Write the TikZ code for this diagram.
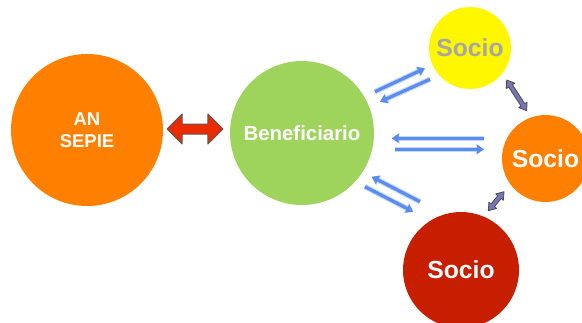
\documentclass[tikz,border=0pt]{standalone}
\usepackage{fontspec}
\setmainfont{Liberation Sans}
\usetikzlibrary{arrows.meta,calc}
\definecolor{corange}{HTML}{FF7F00}
\definecolor{cgreen}{HTML}{9ED45C}
\definecolor{cyellow}{HTML}{FFF700}
\definecolor{cred}{HTML}{C81E00}
\definecolor{cgray}{HTML}{A6A6A6}
\definecolor{carrow}{HTML}{EC2A00}
\definecolor{cblue}{HTML}{5A8CF0}
\definecolor{cglow}{HTML}{C6D8FA}
\definecolor{cslate}{HTML}{7676B8}
% #1 style, #2 from, #3 to, #4 head length, #5 half head width, #6 half shaft width
\newcommand{\blockdbl}[6]{%
  \path[#1] let \p1=($(#3)-(#2)$), \n1={atan2(\y1,\x1)}, \n2={veclen(\x1,\y1)} in
    [shift={(#2)},rotate=\n1]
    (0,0) -- (#4,#5) -- (#4,#6) -- ({\n2-#4},#6) -- ({\n2-#4},#5) -- ({\n2},0)
    -- ({\n2-#4},-#5) -- ({\n2-#4},-#6) -- (#4,-#6) -- (#4,-#5) -- cycle;}
\begin{document}
\begin{tikzpicture}[x=1pt,y=-1pt,
  bubble/.style={circle,inner sep=0pt,text=white,font=\bfseries,align=center},
  redarrow/.style={draw=black!65,fill=carrow,line width=1pt,line join=round},
  slatearrow/.style={draw=black!70,fill=cslate,line width=0.8pt,line join=round},
  bluearr/.style={draw=cblue,line width=3.2pt,-{Triangle[length=7pt,width=9pt]},
    preaction={draw=cglow,line width=5.5pt,-{Triangle[length=8pt,width=11pt]}}}]
\useasboundingbox (0,0) rectangle (582,322);
\node[bubble,fill=corange,minimum size=152pt,font=\bfseries\fontsize{18.5}{22}\selectfont] (sepie) at (87,130) {AN\\SEPIE};
\node[bubble,fill=cgreen,minimum size=144pt,font=\bfseries\fontsize{20.4}{24}\selectfont] (ben) at (302,133) {\raisebox{-1.5pt}{Beneficiario}};
\node[bubble,fill=cyellow,minimum size=82pt,text=cgray,font=\bfseries\fontsize{24.7}{28}\selectfont] (s1) at (470,48) {Socio};
\node[bubble,fill=corange,minimum size=87pt,font=\bfseries\fontsize{24.7}{28}\selectfont] (s2) at (545.5,158.5) {Socio};
\node[bubble,fill=cred,minimum size=116pt,font=\bfseries\fontsize{24.7}{28}\selectfont] (s3) at (461,270) {Socio};
% red double arrow between AN SEPIE and Beneficiario
\coordinate (r1) at ($(sepie.east)+(4,-1)$);
\coordinate (r2) at ($(ben.west)+(-7,-4)$);
\blockdbl{redarrow}{r1}{r2}{15}{15}{5}
% slate double arrows between the partners
\coordinate (d1a) at (506.7,80);
\coordinate (d1b) at (526.7,110.7);
\blockdbl{slatearrow}{d1a}{d1b}{7}{5}{2.2}
\coordinate (d2a) at (504,191.7);
\coordinate (d2b) at (488.3,210.7);
\blockdbl{slatearrow}{d2a}{d2b}{7}{5}{2.2}
% blue arrows
\coordinate (a1s) at (375,91.7); \coordinate (a1e) at (425,68.3);
\coordinate (a2s) at (430,79.3); \coordinate (a2e) at (380,101.7);
\coordinate (b1s) at (484,138.3); \coordinate (b1e) at (391.7,138.3);
\coordinate (b2s) at (395,149.3); \coordinate (b2e) at (484,149.3);
\coordinate (c1s) at (420,201.7); \coordinate (c1e) at (371.7,176.7);
\coordinate (c2s) at (365,186.7); \coordinate (c2e) at (413.3,211.7);
\draw[bluearr] (a1s) -- (a1e);
\draw[bluearr] (a2s) -- (a2e);
\draw[bluearr] (b1s) -- (b1e);
\draw[bluearr] (b2s) -- (b2e);
\draw[bluearr] (c1s) -- (c1e);
\draw[bluearr] (c2s) -- (c2e);
\end{tikzpicture}
\end{document}
